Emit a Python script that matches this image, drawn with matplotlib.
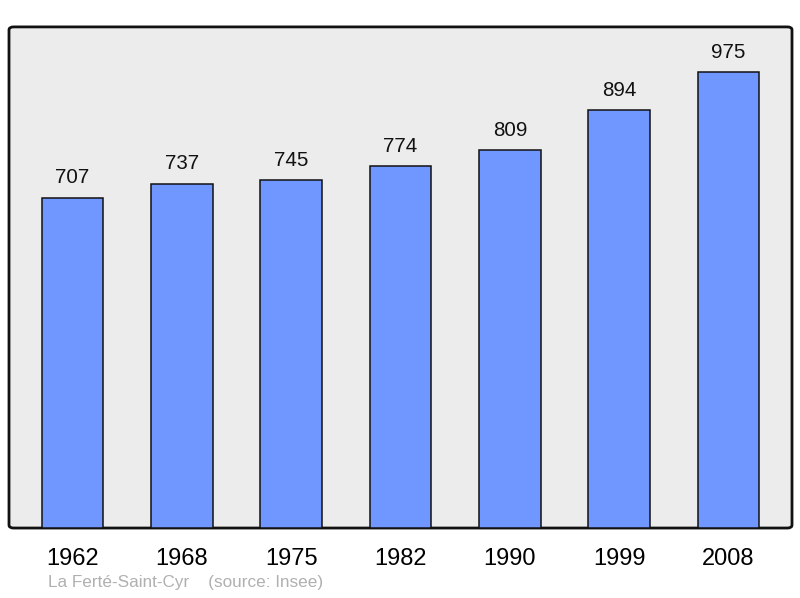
import matplotlib
matplotlib.use("Agg")
import matplotlib.pyplot as plt
from matplotlib.patches import FancyBboxPatch

years = ["1962", "1968", "1975", "1982", "1990", "1999", "2008"]
population = [707, 737, 745, 774, 809, 894, 975]
footer = "La Ferté-Saint-Cyr    (source: Insee)"

plt.rcParams['font.family'] = ['Liberation Sans', 'DejaVu Sans']

fig = plt.figure(figsize=(8, 5.98), dpi=100)
ax = fig.add_axes([0.01125, 0.117, 0.97875, 0.838])
ax.set_facecolor('none')

bg = FancyBboxPatch((0, 0), 1, 1, boxstyle="round,pad=0,rounding_size=0.006",
                    transform=ax.transAxes, facecolor='#ececec', edgecolor='#111111',
                    linewidth=2, clip_on=False, zorder=0)
ax.add_patch(bg)

x = list(range(len(years)))
bars = ax.bar(x, population, width=0.565, color='#7096ff', edgecolor='#111111',
              linewidth=1.1, zorder=2)
for xi, v in zip(x, population):
    ax.annotate(str(v), (xi, v), xytext=(0, 7.5), textcoords='offset points',
                ha='center', va='bottom', fontsize=14.8, color='#111111')

ax.set_xlim(-0.58, 6.58)
ax.set_ylim(0, 975 * 1.1)
ax.set_xticks(x)
ax.set_xticklabels(years, fontsize=17)
ax.tick_params(axis='x', length=0, pad=14.5)
ax.set_yticks([])
for s in ax.spines.values():
    s.set_visible(False)

fig.text(48 / 800, 1 - 583 / 598, footer, fontsize=12.3, color='#b0b0b0',
         ha='left', va='center')

fig.savefig('out.png', dpi=100)
